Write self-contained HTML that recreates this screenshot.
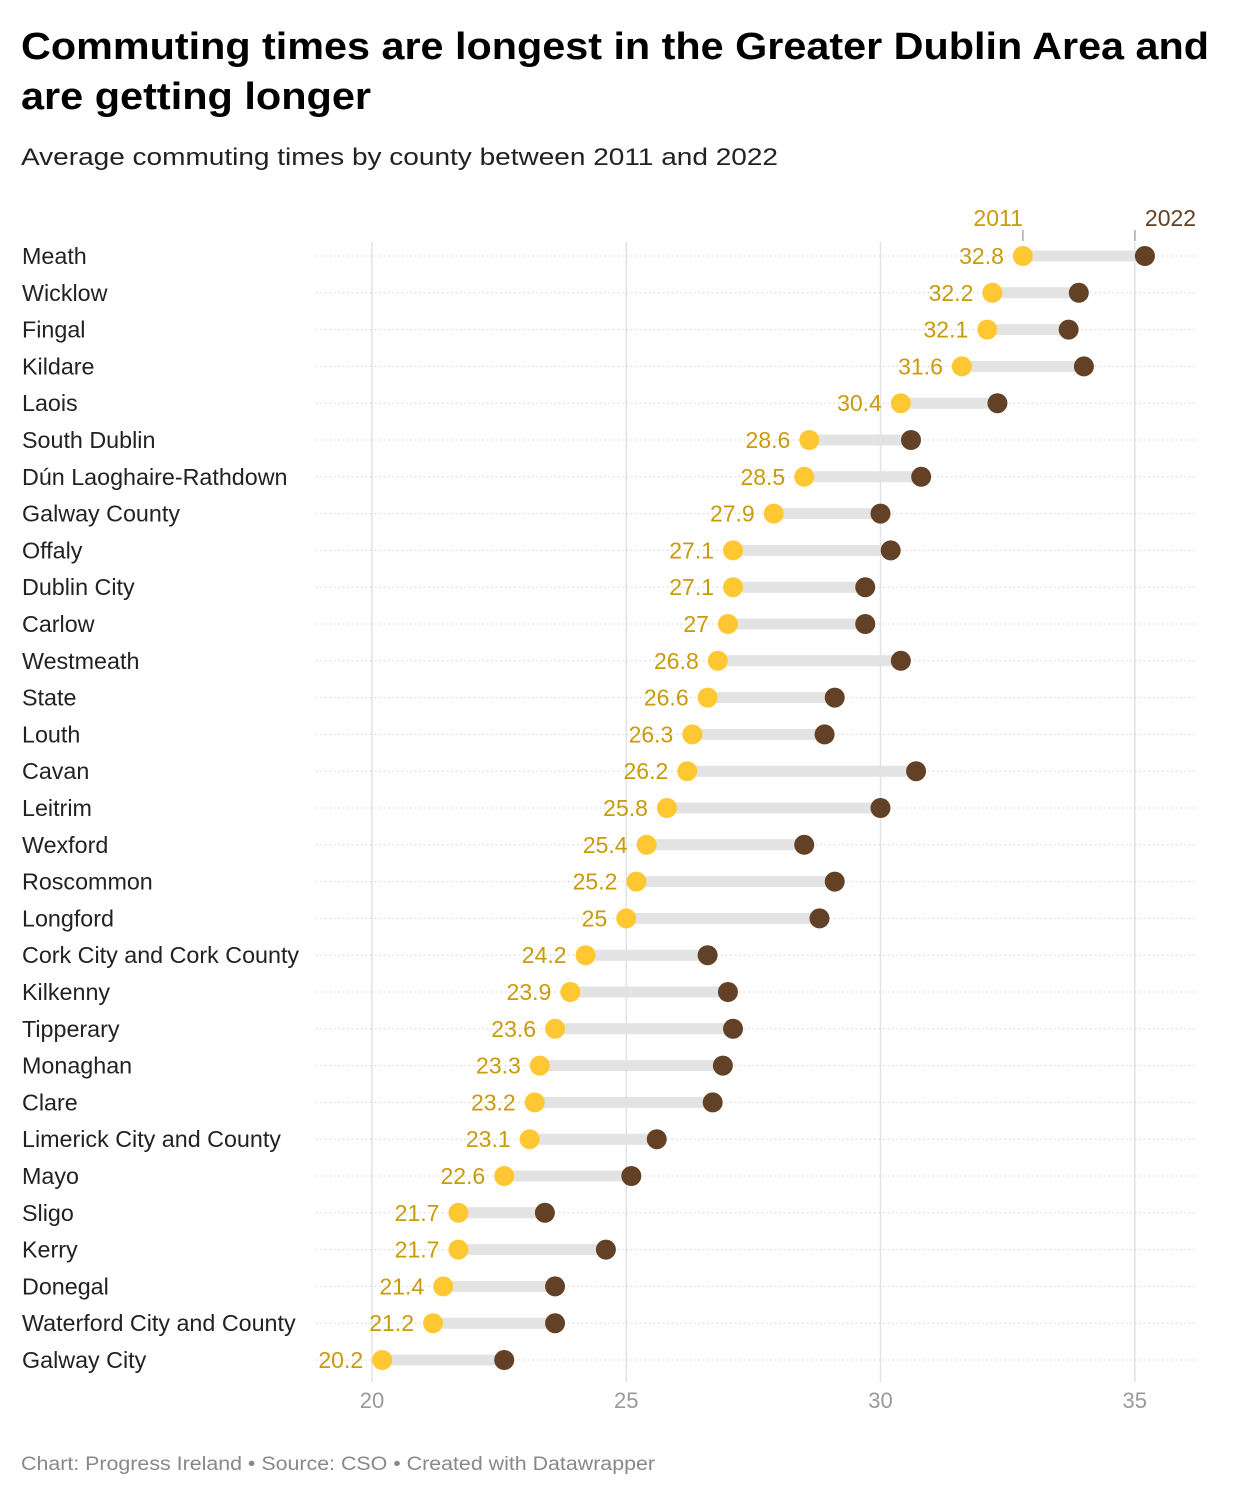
<!DOCTYPE html>
<html><head><meta charset="utf-8"><style>
html,body{margin:0;padding:0;background:#fff}
svg{display:block;font-family:"Liberation Sans",sans-serif}
</style></head><body>
<svg id="chart" width="1240" height="1498" viewBox="0 0 1240 1498" xmlns="http://www.w3.org/2000/svg">
<text x="21" y="59" font-size="38" font-weight="bold" fill="#000" textLength="1188" lengthAdjust="spacingAndGlyphs">Commuting times are longest in the Greater Dublin Area and</text>
<text x="21" y="109" font-size="38" font-weight="bold" fill="#000" textLength="350" lengthAdjust="spacingAndGlyphs">are getting longer</text>
<text x="21" y="165" font-size="24" fill="#222" textLength="757" lengthAdjust="spacingAndGlyphs">Average commuting times by county between 2011 and 2022</text>
<g id="grid"></g>
<g id="rows"></g>
<g id="marks"></g>
<text x="21" y="1470" font-size="19" fill="#888" textLength="634" lengthAdjust="spacingAndGlyphs">Chart: Progress Ireland • Source: CSO • Created with Datawrapper</text>
</svg>
<script>
const categories=["Meath","Wicklow","Fingal","Kildare","Laois","South Dublin","Dún Laoghaire-Rathdown","Galway County","Offaly","Dublin City","Carlow","Westmeath","State","Louth","Cavan","Leitrim","Wexford","Roscommon","Longford","Cork City and Cork County","Kilkenny","Tipperary","Monaghan","Clare","Limerick City and County","Mayo","Sligo","Kerry","Donegal","Waterford City and County","Galway City"];
const values2011=[32.8,32.2,32.1,31.6,30.4,28.6,28.5,27.9,27.1,27.1,27,26.8,26.6,26.3,26.2,25.8,25.4,25.2,25,24.2,23.9,23.6,23.3,23.2,23.1,22.6,21.7,21.7,21.4,21.2,20.2];
const values2022=[35.2,33.9,33.7,34.0,32.3,30.6,30.8,30.0,30.2,29.7,29.7,30.4,29.1,28.9,30.7,30.0,28.5,29.1,28.8,26.6,27.0,27.1,26.9,26.7,25.6,25.1,23.4,24.6,23.6,23.6,22.6];
const xTicks=[20,25,30,35];
const NS="http://www.w3.org/2000/svg";
const X0=372,PX=50.85,Y0=256,STEP=36.8;
function xs(v){return X0+(v-20)*PX;}
function ys(i){return Y0+i*STEP;}
function mk(tag,attrs,parent,text){const e=document.createElementNS(NS,tag);for(const k in attrs)e.setAttribute(k,attrs[k]);if(text!==undefined)e.textContent=text;parent.appendChild(e);return e;}
const grid=document.getElementById('grid'),rows=document.getElementById('rows'),marks=document.getElementById('marks');
xTicks.forEach(t=>{
  const l=mk('line',{x1:xs(t),x2:xs(t),y1:242,y2:1382,stroke:'#e2e2e2','stroke-width':1.5},grid);
  
  
  const tx=mk('text',{x:xs(t),y:1408,'font-size':22,fill:'#999','text-anchor':'middle'},grid,String(t));
  
  
});
categories.forEach((c,i)=>{
  const y=ys(i);
  const d=mk('line',{x1:316,x2:1198,y1:y,y2:y,stroke:'#d0d0d0','stroke-width':1,'stroke-dasharray':'1.5 3'},rows);
  
  
  const lb=mk('text',{x:22,y:y+8,'font-size':23.3,fill:'#222'},rows,c);
  
  
  const a=xs(values2011[i]),b=xs(values2022[i]);
  const bar=mk('line',{x1:a,x2:b,y1:y,y2:y,stroke:'#e3e3e3','stroke-width':11},marks);
  
  
  const d1=mk('circle',{cx:a,cy:y,r:10,fill:'#ffc832'},marks);
  
  
  const d2=mk('circle',{cx:b,cy:y,r:10,fill:'#634126'},marks);
  
  
  const vl=mk('text',{x:a-19,y:y+8,'font-size':23,fill:'#c99a0b','text-anchor':'end'},marks,String(values2011[i]));
  
  
  if(i===0){
    const h1=mk('text',{x:a,y:226,'font-size':23,fill:'#c99a0b','text-anchor':'end'},marks,'2011');
    
    
    const t1=mk('line',{x1:a,x2:a,y1:230,y2:241,stroke:'#aaa','stroke-width':1.5},marks);
    
    
    const h2=mk('text',{x:b,y:226,'font-size':23,fill:'#634126','text-anchor':'start'},marks,'2022');
    
    
    const t2=mk('line',{x1:b-10,x2:b-10,y1:230,y2:241,stroke:'#aaa','stroke-width':1.5},marks);
    
    
  }
});
</script>
</body></html>
